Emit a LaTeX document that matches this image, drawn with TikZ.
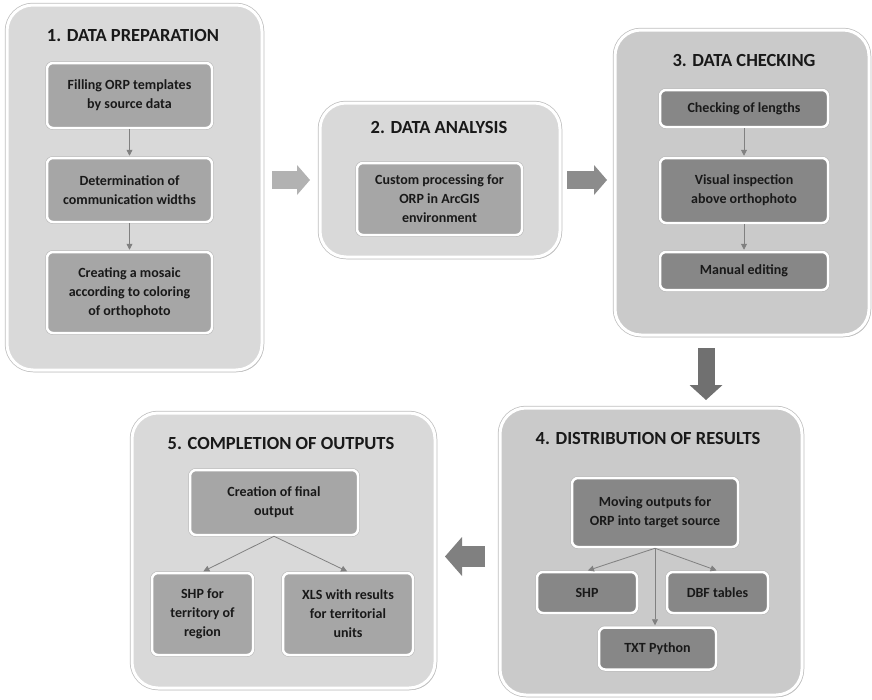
\documentclass[tikz,border=0pt]{standalone}
\usepackage{fontspec}
\setmainfont{Carlito}
\usetikzlibrary{arrows.meta,shadows,calc}

\definecolor{panellight}{RGB}{217,217,217}
\definecolor{paneldark}{RGB}{202,202,202}
\definecolor{boxlight}{RGB}{166,166,166}
\definecolor{boxdark}{RGB}{135,135,135}
\definecolor{linkgray}{RGB}{128,128,128}
\definecolor{arrowA}{RGB}{178,178,178}
\definecolor{arrowB}{RGB}{140,140,140}
\definecolor{arrowC}{RGB}{112,112,112}
\definecolor{arrowD}{RGB}{128,128,128}

\tikzset{
  panel/.style={rectangle, rounded corners=26pt, fill=panellight,
    drop shadow={shadow xshift=1.5pt, shadow yshift=-2pt, fill=black, opacity=0.25},
    preaction={draw=black!25, line width=4.5pt},
    draw=white, line width=3pt},
  paneldk/.style={panel, fill=paneldark},
  title/.style={font=\bfseries\fontsize{18.5}{21}\selectfont, text=black!90},
  procbox/.style={rectangle, rounded corners=6pt, fill=boxlight,
    drop shadow={shadow xshift=1pt, shadow yshift=-1pt, fill=black, opacity=0.3},
    preaction={draw=black!30, line width=3.5pt},
    draw=white, line width=2.5pt, align=center, inner sep=2pt,
    font=\bfseries\fontsize{14}{19}\selectfont, text=black!90},
  procdk/.style={procbox, fill=boxdark},
  link/.style={draw=linkgray, line width=0.8pt, -{Triangle[length=6pt,width=6pt]}, shorten >=1pt},
  bigarrow/.style n args={3}{line width=#1,
    -{Triangle[length=#3 0 0, width=#2 0 0, line width=0pt 0 0]}}
}

\begin{document}
\begin{tikzpicture}[x=1pt,y=-1pt]
	\useasboundingbox (0,0) rectangle (872,699);
	
	% panels
	\node[panel,   minimum width=255pt, minimum height=365pt] (p1) at (134.5,187.5) {};
	\node[panel,   minimum width=240pt, minimum height=154pt] (p2) at (440,180)     {};
	\node[paneldk, minimum width=254pt, minimum height=305pt] (p3) at (742,182.5)   {};
	\node[paneldk, minimum width=302pt, minimum height=287pt] (p4) at (651,551.5)   {};
	\node[panel,   minimum width=303pt, minimum height=275pt] (p5) at (283.5,550.5) {};
	
	% titles
	\node[title] (t1) at (133,35)  {1. DATA PREPARATION};
	\node[title] (t2) at (439,127) {2. DATA ANALYSIS};
	\node[title] (t3) at (744,60)  {3. DATA CHECKING};
	\node[title] (t4) at (648,438) {4. DISTRIBUTION OF RESULTS};
	\node[title] (t5) at (281,443) {5. COMPLETION OF OUTPUTS};
	
	% 1. data preparation
	\node[procbox, minimum width=165pt, minimum height=65pt] (a1) at (129.5,95.5)  {Filling ORP templates\\by source data};
	\node[procbox, minimum width=165pt, minimum height=64pt] (a2) at (129.5,190)   {Determination of\\communication widths};
	\node[procbox, minimum width=165pt, minimum height=81pt] (a3) at (129.5,292.5) {Creating a mosaic\\according to coloring\\of orthophoto};
	
	% 2. data analysis
	\node[procbox, minimum width=165pt, minimum height=72pt] (b1) at (439.5,199) {Custom processing for\\ORP in ArcGIS\\environment};
	
	% 3. data checking
	\node[procdk, minimum width=168pt, minimum height=37pt] (c1) at (744,108.5) {Checking of lengths};
	\node[procdk, minimum width=168pt, minimum height=65pt] (c2) at (744,190.5) {Visual inspection\\above orthophoto};
	\node[procdk, minimum width=168pt, minimum height=38pt] (c3) at (744,271)   {Manual editing};
	
	% 4. distribution of results
	\node[procdk, minimum width=166pt, minimum height=69pt] (d1) at (655,512.5)   {Moving outputs for\\ORP into target source};
	\node[procdk, minimum width=100pt, minimum height=41pt] (d2) at (587,592.5)   {SHP};
	\node[procdk, minimum width=101pt, minimum height=41pt] (d3) at (717.5,592.5) {DBF tables};
	\node[procdk, minimum width=117pt, minimum height=42pt] (d4) at (657.5,648.5) {TXT Python};
	
	% 5. completion of outputs
	\node[procbox, minimum width=168pt, minimum height=65pt] (e1) at (274,502.5) {Creation of final\\output};
	\node[procbox, minimum width=101pt, minimum height=82pt] (e2) at (202.5,614) {SHP for\\territory of\\region};
	\node[procbox, minimum width=130pt, minimum height=82pt] (e3) at (348,614)   {XLS with results\\for territorial\\units};
	
	% links inside panels
	\draw[link] (a1) -- (a2);
	\draw[link] (a2) -- (a3);
	\draw[link] (c1) -- (c2);
	\draw[link] (c2) -- (c3);
	\draw[link] (d1.south) -- (d2.north);
	\draw[link] (d1.south) -- (d3.north);
	\draw[link] (d1.south) -- (d1.south |- d4.north);
	\draw[link] (e1.south) -- (e2.north);
	\draw[link] (e1.south) -- (e3.north);
	
	% arrows between panels
	\draw[bigarrow={18pt}{30pt}{13pt}, draw=arrowA, shorten <=8.5pt, shorten >=8.5pt]
	  (p1.east |- p2.west) -- (p2.west);
	\draw[bigarrow={18pt}{30pt}{13pt}, draw=arrowB, shorten <=5.5pt, shorten >=6.5pt]
	  (p2.east) -- (p3.west |- p2.east);
	\draw[bigarrow={17pt}{33pt}{15pt}, draw=arrowC, shorten <=11.5pt, shorten >=6.5pt]
	  ([xshift=-36pt]p3.south) -- ([xshift=-36pt]p3.south |- p4.north);
	\draw[bigarrow={21pt}{39pt}{17pt}, draw=arrowD, shorten <=13.5pt, shorten >=8.5pt]
	  ([yshift=-5pt]p4.west) -- ([yshift=-5pt]p4.west -| p5.east);
	
\end{tikzpicture}
\end{document}
